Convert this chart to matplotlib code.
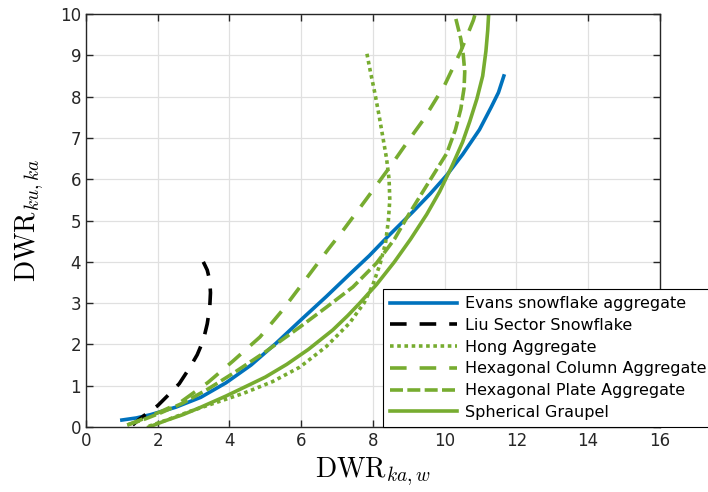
import matplotlib
matplotlib.use("Agg")
import matplotlib.pyplot as plt
import numpy as np

plt.rcParams['mathtext.fontset'] = 'cm'
plt.rcParams['font.family'] = 'DejaVu Sans'

# DWR_ka,w vs DWR_ku,ka for each particle habit
evans_x = [1.0, 1.4, 1.8, 2.5, 3.2, 3.9, 4.6, 5.3, 6.0, 6.7, 7.35, 7.9, 8.4, 9.1, 9.6,
           10.06, 10.5, 10.97, 11.3, 11.5, 11.65]
evans_y = [0.17, 0.22, 0.3, 0.48, 0.72, 1.07, 1.5, 2.03, 2.6, 3.16, 3.7, 4.15, 4.6, 5.2, 5.65,
           6.1, 6.6, 7.2, 7.75, 8.1, 8.5]

liu_x = [1.3, 1.5, 1.7, 2.0, 2.3, 2.6, 2.9, 3.1, 3.27, 3.38, 3.45, 3.47, 3.45, 3.38, 3.27]
liu_y = [0.05, 0.2, 0.33, 0.52, 0.78, 1.05, 1.45, 1.75, 2.1, 2.5, 2.9, 3.25, 3.55, 3.8, 4.0]

hong_x = [1.75, 2.25, 2.9, 3.65, 4.4, 5.2, 5.96, 6.7, 7.35, 7.75, 8.0, 8.2, 8.35, 8.43, 8.47,
          8.45, 8.38, 8.28, 8.17, 8.05, 7.93, 7.83]
hong_y = [0.02, 0.17, 0.38, 0.6, 0.82, 1.1, 1.45, 1.95, 2.52, 3.0, 3.45, 3.95, 4.45, 5.0, 5.5,
          6.0, 6.5, 7.0, 7.55, 8.1, 8.6, 9.05]

col_x = [1.15, 1.6, 2.1, 2.6, 3.4, 4.1, 4.85, 5.45, 6.05, 6.75, 7.2, 7.8, 8.55, 9.0, 9.4,
         10.0, 10.45, 10.8, 10.95]
col_y = [0.05, 0.2, 0.38, 0.58, 1.08, 1.6, 2.18, 2.8, 3.49, 4.3, 4.8, 5.5, 6.39, 6.95, 7.43,
         8.28, 9.1, 9.85, 10.3]

plate_x = [1.15, 1.6, 2.1, 2.7, 3.4, 4.1, 5.0, 5.96, 6.7, 7.44, 8.1, 8.6, 9.0, 9.5, 10.06,
           10.3, 10.45, 10.54, 10.56, 10.52, 10.45, 10.35, 10.25]
plate_y = [0.05, 0.18, 0.35, 0.58, 0.92, 1.3, 1.82, 2.42, 2.9, 3.39, 3.97, 4.55, 5.15, 5.85, 6.63,
           7.2, 7.7, 8.2, 8.6, 9.0, 9.4, 9.75, 10.1]

graupel_x = [1.75, 2.2, 2.7, 3.2, 3.9, 4.5, 5.0, 5.6, 6.2, 6.88, 7.3, 7.63, 8.1, 8.6, 9.05,
             9.5, 9.86, 10.22, 10.5, 10.7, 10.9, 11.06, 11.15, 11.2, 11.23]
graupel_y = [0.0, 0.15, 0.3, 0.48, 0.75, 1.0, 1.21, 1.52, 1.88, 2.35, 2.7, 3.0, 3.45, 4.0, 4.55,
             5.15, 5.7, 6.35, 6.9, 7.4, 7.95, 8.5, 9.1, 9.6, 10.05]

labels = ['Evans snowflake aggregate', 'Liu Sector Snowflake', 'Hong Aggregate',
          'Hexagonal Column Aggregate', 'Hexagonal Plate Aggregate', 'Spherical Graupel']

blue = '#0072BD'
green = '#77AC30'

fig = plt.figure(figsize=(7.08, 4.92), dpi=100)
ax = fig.add_axes([0.1215, 0.132, 0.8105, 0.8395])

lw = 2.6
ax.plot(evans_x, evans_y, color=blue, lw=lw, label=labels[0])
ax.plot(liu_x, liu_y, color='black', lw=lw, dashes=(4.6, 3.6), label=labels[1])
ax.plot(hong_x, hong_y, color=green, lw=lw, dashes=(1, 1), label=labels[2])
ax.plot(col_x, col_y, color=green, lw=lw, dashes=(4.6, 3.6), label=labels[3])
ax.plot(plate_x, plate_y, color=green, lw=lw, dashes=(3.6, 1.2), label=labels[4])
ax.plot(graupel_x, graupel_y, color=green, lw=lw, label=labels[5])

ax.set_xlim(0, 16)
ax.set_ylim(0, 10)
ax.set_xticks(np.arange(0, 17, 2))
ax.set_yticks(np.arange(0, 11, 1))
ax.grid(True, color='#e0e0e0', lw=0.9)
ax.set_axisbelow(True)
ax.tick_params(direction='in', top=True, right=True, labelsize=12,
               colors='#262626', length=5, width=1.0)
for s in ax.spines.values():
    s.set_color('#262626')
    s.set_linewidth(1.0)

ax.set_xlabel(r'$\mathrm{DWR}_{ka,w}$', fontsize=20, labelpad=4)
ax.set_ylabel(r'$\mathrm{DWR}_{ku,ka}$', fontsize=20, labelpad=10)

leg = ax.legend(loc='lower left', bbox_to_anchor=(0.517, 0.0), fontsize=11.5,
                frameon=True, fancybox=False, edgecolor='black', framealpha=1,
                handlelength=4.2, handletextpad=0.5, labelspacing=0.42,
                borderaxespad=0, borderpad=0.45)
leg.get_frame().set_linewidth(0.8)

fig.savefig('out.png', dpi=100)
